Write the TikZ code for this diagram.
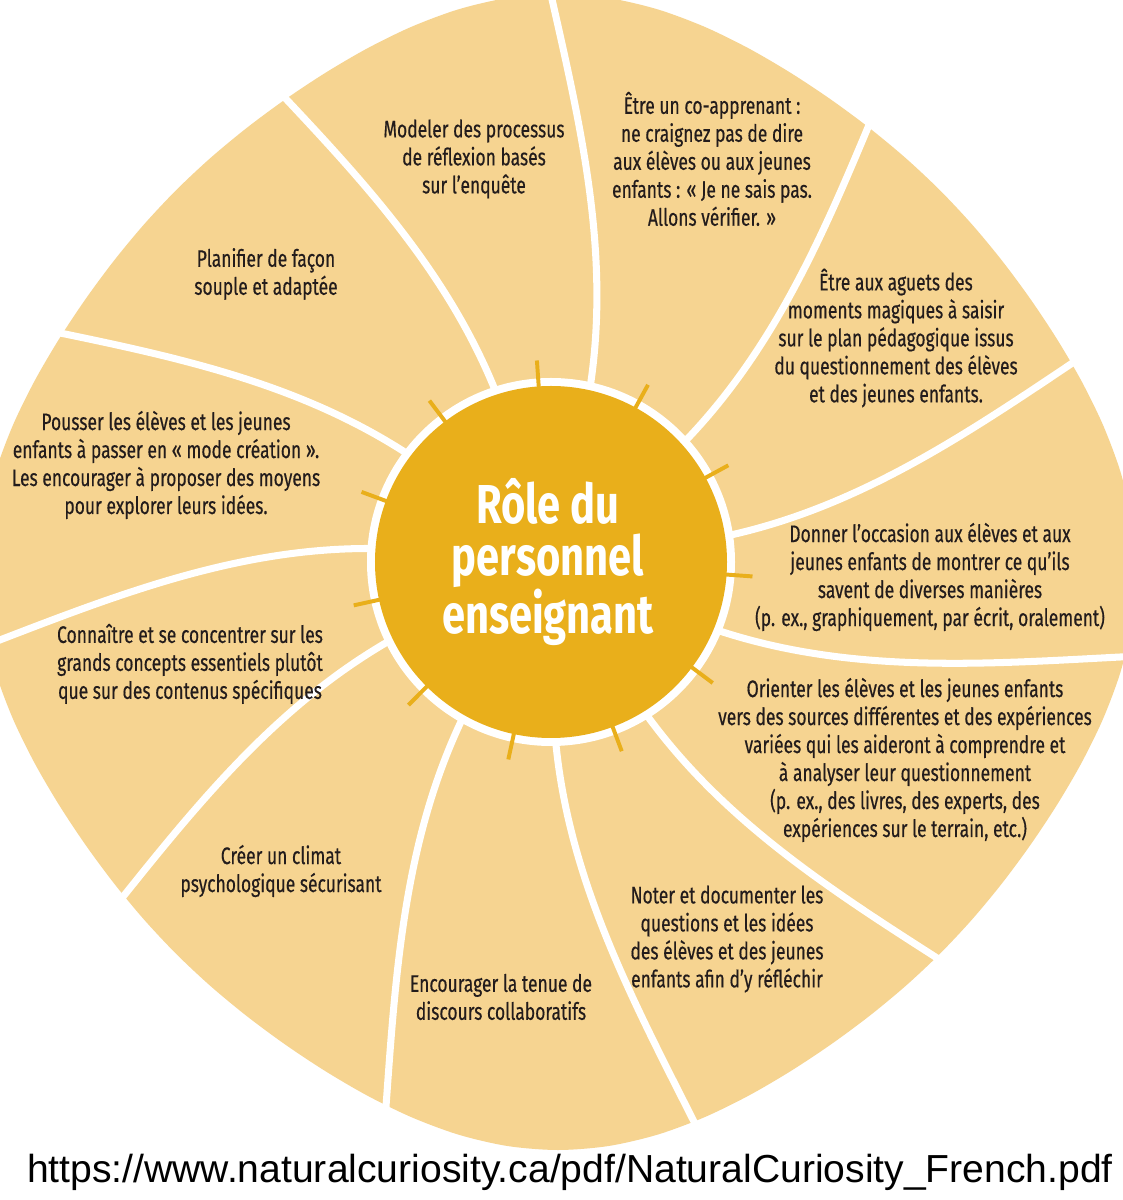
\documentclass[tikz,border=0pt]{standalone}
\usepackage{fontspec}
\newfontfamily\blurbfont[FakeStretch=0.73,FakeBold=0.4]{Fira Sans}
\newfontfamily\titlefont[FakeStretch=0.76]{Fira Sans}
\newfontfamily\linkfont{Liberation Sans}

\definecolor{wedgetan}{RGB}{246,212,145}
\definecolor{sungold}{RGB}{233,175,27}
\definecolor{inkbrown}{RGB}{35,28,28}

\begin{document}
\begin{tikzpicture}[
	x=0.025cm,y=0.025cm,
	divider/.style={white, line width=5pt},
	ray/.style={sungold, line width=2.8pt},
	blurb/.style={text=inkbrown, align=center, inner sep=0pt,
		font=\blurbfont\fontsize{17}{19.9}\selectfont}
	]
	
	% page (origin = centre of the sun)
	\useasboundingbox[fill=white] (-551,-638) rectangle (571,562);
	
	% --------------------------
	% Outer rounded shape
	% --------------------------
	\fill[wedgetan] plot[smooth cycle, domain=0:355, samples=72, variable=\t]
		({7+(556.4+19*cos(4*\t)+2.6*cos(8*\t))*cos(\t)},
		 {-10+(556.4+19*cos(4*\t)+2.6*cos(8*\t))*sin(\t)});
	
	% white dividers between the eleven wedges
	\draw[divider] (77.4:180) .. controls +(81.4:150) and +(282.4:150) .. (90.9:610);
	\draw[divider] (42:180) .. controls +(46:150) and +(247:150) .. (55.5:610);
	\draw[divider] (8.5:180) .. controls +(12.5:150) and +(213.5:150) .. (22:610);
	\draw[divider] (-22.3:180) .. controls +(-18.3:150) and +(182.7:150) .. (-8.8:610);
	\draw[divider] (-58:180) .. controls +(-54:150) and +(147:150) .. (-44.5:610);
	\draw[divider] (-88.5:180) .. controls +(-84.5:150) and +(116.5:150) .. (-75:610);
	\draw[divider] (-119.5:180) .. controls +(-115.5:150) and +(85.5:150) .. (-106:610);
	\draw[divider] (-154:180) .. controls +(-150:150) and +(51:150) .. (-140.5:610);
	\draw[divider] (-184.3:180) .. controls +(-180.3:150) and +(20.7:150) .. (-170.8:610);
	\draw[divider] (143:180) .. controls +(147:150) and +(348:150) .. (156.5:610);
	\draw[divider] (108:180) .. controls +(112:150) and +(313:150) .. (121.5:610);
	
	% --------------------------
	% Sun in the middle
	% --------------------------
	\fill[white] (0,0) circle (184);
	\fill[sungold] (0,0) circle (176);
	
	% short rays
	\draw[ray] (94:170) -- (94:202);
	\draw[ray] (61.3:170) -- (61.3:202);
	\draw[ray] (28.6:170) -- (28.6:202);
	\draw[ray] (-4.1:170) -- (-4.1:202);
	\draw[ray] (-36.8:170) -- (-36.8:202);
	\draw[ray] (-69.5:170) -- (-69.5:202);
	\draw[ray] (-102.2:170) -- (-102.2:202);
	\draw[ray] (-134.9:170) -- (-134.9:202);
	\draw[ray] (-167.6:170) -- (-167.6:202);
	\draw[ray] (159.7:170) -- (159.7:202);
	\draw[ray] (127:170) -- (127:202);
	
	\node[text=white, align=center, font=\titlefont\bfseries\fontsize{39}{37}\selectfont]
		(role) at (-3,0) {Rôle du\\personnel\\enseignant};
	
	% --------------------------
	% Wedge texts (clockwise from the top)
	% --------------------------
	\node[blurb] (modeler) at (-77,403) {Modeler des processus\\de réflexion basés\\sur l’enquête};
	\node[blurb] (coapp) at (161,403) {Être un co-apprenant :\\ne craignez pas de dire\\aux élèves ou aux jeunes\\enfants : « Je ne sais pas.\\Allons vérifier. »};
	\node[blurb] (aguets) at (345,224) {Être aux aguets des\\moments magiques à saisir\\sur le plan pédagogique issus\\du questionnement des élèves\\et des jeunes enfants.};
	\node[blurb] (donner) at (379,-15) {Donner l’occasion aux élèves et aux\\jeunes enfants de montrer ce qu’ils\\savent de diverses manières\\(p. ex., graphiquement, par écrit, oralement)};
	\node[blurb] (orienter) at (354,-198) {Orienter les élèves et les jeunes enfants\\vers des sources différentes et des expériences\\variées qui les aideront à comprendre et\\à analyser leur questionnement\\(p. ex., des livres, des experts, des\\expériences sur le terrain, etc.)};
	\node[blurb] (noter) at (176,-377) {Noter et documenter les\\questions et les idées\\des élèves et des jeunes\\enfants afin d’y réfléchir};
	\node[blurb] (encourager) at (-50,-435) {Encourager la tenue de\\discours collaboratifs};
	\node[blurb] (climat) at (-270,-309) {Créer un climat\\psychologique sécurisant};
	\node[blurb] (connaitre) at (-361,-102) {Connaître et se concentrer sur les\\grands concepts essentiels plutôt\\que sur des contenus spécifiques};
	\node[blurb] (pousser) at (-385,97) {Pousser les élèves et les jeunes\\enfants à passer en « mode création ».\\Les encourager à proposer des moyens\\pour explorer leurs idées.};
	\node[blurb] (planifier) at (-285,288) {Planifier de façon\\souple et adaptée};
	
	% source line
	\node[font=\linkfont\fontsize{27.8}{30}\selectfont, inner sep=0pt] (url) at (19,-610)
		{https://www.naturalcuriosity.ca/pdf/NaturalCuriosity\_French.pdf};
	
\end{tikzpicture}
\end{document}
